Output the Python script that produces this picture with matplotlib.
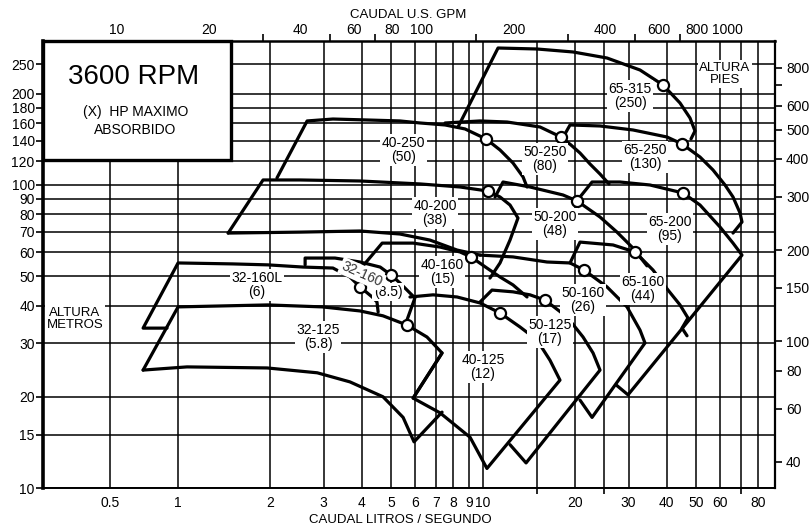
import matplotlib
matplotlib.use("Agg")
import matplotlib.pyplot as plt
from matplotlib.patches import Rectangle
from matplotlib.ticker import FixedLocator, FixedFormatter, NullFormatter

plt.rcParams["font.family"] = ["Liberation Sans", "DejaVu Sans"]

LPS_TO_GPM = 15.8503
M_TO_FT = 1 / 0.3048

# axis ranges (L/s, m)
q_range = (0.3607, 90.66)
h_range = (10.0, 298.7)

# bottom axis: flow in L/s
q_tick_pos = [0.6, 1, 2, 3, 4, 5, 6, 7, 8, 9, 10, 20, 30, 40, 50, 60, 80]
q_tick_lbl = ["0.5", "1", "2", "3", "4", "5", "6", "7", "8", "9", "10",
              "20", "30", "40", "50", "60", "80"]
q_minor = [15, 25, 70]
# left axis: head in metres
h_ticks = [10, 15, 20, 30, 40, 50, 60, 70, 80, 90, 100, 120, 140, 160, 180, 200, 250]
# top axis: flow in US GPM
gpm_ticks = [10, 20, 40, 60, 80, 100, 200, 400, 600, 800, 1000]
gpm_minor = [30, 50, 70, 150, 300, 500, 700]
# right axis: head in feet
ft_ticks = [40, 60, 80, 100, 150, 200, 300, 400, 500, 600, 800]
ft_minor = [700]

# pump range outlines, (flow L/s, head m)
p65_315 = [(8.28, 155.4), (11.20, 283.2), (15.03, 281.1), (19.73, 274.8), (25.50, 262.5),
           (32.72, 239.6), (38.93, 213.8), (44.25, 186.5), (47.72, 166.4), (49.55, 150.8),
           (48.08, 141.9)]
p50_250 = [(7.51, 160.2), (9.78, 162.7), (11.99, 161.4), (15.38, 155.4), (18.02, 144.0),
           (19.43, 135.5), (20.80, 127.5), (22.43, 117.3), (24.19, 108.7), (25.89, 100.8)]
p40_250 = [(2.11, 105.5), (2.65, 162.7), (3.22, 165.1), (4.17, 163.9), (5.34, 162.7),
           (6.22, 160.2), (7.51, 157.8), (8.73, 153.1), (10.23, 141.9), (11.37, 130.5),
           (12.54, 118.2), (13.53, 106.3), (13.94, 98.5)]
p65_250 = [(18.57, 147.4), (19.29, 157.8), (24.19, 156.6), (31.04, 151.9), (40.12, 144.0),
           (44.93, 136.6), (51.46, 123.7), (56.77, 112.1), (62.15, 100.0), (66.03, 91.3),
           (69.60, 80.9), (70.66, 75.5), (66.03, 69.4)]
p40_200 = [(1.46, 69.4), (1.90, 103.9), (2.51, 103.9), (3.95, 103.1), (6.22, 100.8),
           (8.41, 98.5), (10.38, 95.5), (11.37, 91.3), (12.26, 85.9), (13.02, 77.8),
           (12.26, 65.8), (11.37, 55.3), (10.54, 49.3)]
p40_200_low = [(1.46, 69.4), (2.51, 69.9), (3.95, 70.5), (5.34, 68.9), (6.70, 65.8),
               (8.22, 61.0), (9.78, 58.7)]
p50_160 = [(9.78, 58.7), (12.54, 57.9), (16.21, 55.7), (19.29, 55.3), (21.44, 52.4),
           (25.50, 46.1), (29.66, 39.6), (32.72, 33.2), (33.97, 30.1), (22.78, 17.1),
           (20.80, 19.5)]
p50_200 = [(10.95, 91.3), (11.63, 102.3), (14.26, 98.5), (18.29, 92.7), (20.33, 88.6),
           (24.19, 78.4), (27.50, 69.9), (31.04, 61.9), (34.49, 54.1)]
p65_200 = [(20.80, 91.3), (22.78, 102.3), (28.13, 102.3), (35.28, 100.0), (45.27, 94.1),
           (51.46, 85.9), (59.84, 72.7), (66.03, 64.3), (70.66, 58.7), (29.89, 20.3),
           (27.30, 21.9)]
p65_160 = [(19.29, 55.3), (20.80, 64.8), (26.69, 63.4), (31.51, 60.1), (36.09, 52.4),
           (40.43, 45.0), (44.25, 40.2), (47.00, 36.4), (44.93, 33.7), (46.66, 31.8)]
p40_160 = [(4.01, 53.6), (4.67, 64.3), (5.90, 64.3), (7.23, 62.4), (8.41, 60.1),
           (9.13, 57.9), (10.30, 53.2), (11.37, 49.7), (12.54, 46.8), (13.94, 42.7)]
p32_160 = [(2.61, 54.5), (2.61, 57.4), (3.27, 57.4), (3.95, 55.7), (4.60, 53.6),
           (4.99, 50.5), (5.34, 47.5), (5.76, 44.0), (5.98, 42.4), (5.63, 35.8)]
p32_160L = [(0.920, 33.7), (0.768, 33.7), (1.00, 55.3), (1.51, 54.9), (1.97, 54.5),
            (2.57, 53.6), (3.22, 53.2), (3.66, 49.7), (3.95, 46.1), (4.33, 42.7),
            (4.49, 41.1), (4.53, 38.1)]
p32_125 = [(0.768, 24.5), (1.00, 39.6), (1.97, 40.2), (2.97, 39.6), (3.95, 38.4),
           (4.70, 37.0), (5.63, 34.5), (6.55, 31.5), (7.34, 27.9), (5.90, 19.8)]
p32_125_low = [(0.768, 24.5), (1.07, 25.1), (1.96, 24.9), (2.86, 24.0), (3.66, 22.4),
               (4.70, 20.0), (5.47, 17.1), (5.94, 14.2), (7.34, 17.8)]
p40_125 = [(5.76, 42.7), (6.86, 43.4), (8.22, 42.7), (9.78, 40.8), (11.37, 37.8),
           (13.22, 34.0), (15.03, 30.8), (16.58, 26.4), (17.88, 22.7), (10.30, 11.6),
           (9.07, 14.7), (7.23, 17.7), (5.90, 19.8), (7.34, 27.9)]
p50_125 = [(9.78, 41.1), (10.70, 45.0), (12.54, 44.4), (14.26, 43.4), (15.97, 41.7),
           (18.85, 36.7), (21.28, 31.5), (22.95, 27.9), (24.19, 24.5), (13.84, 12.1),
           (12.26, 13.9)]

outlines = [p65_315, p50_250, p40_250, p65_250, p40_200, p40_200_low, p50_160, p50_200,
            p65_200, p65_160, p40_160, p32_160, p32_160L, p32_125, p32_125_low,
            p40_125, p50_125]

# best-efficiency points (circles)
bep_q = [38.93, 10.23, 18.02, 44.93, 10.38, 20.33, 45.27, 9.13, 21.44, 31.51,
         4.99, 3.95, 5.63, 11.37, 15.97]
bep_h = [213.8, 141.9, 144.0, 136.6, 95.5, 88.6, 94.1, 57.9, 52.4, 60.1,
         50.5, 46.1, 34.5, 37.8, 41.7]

# model names with maximum absorbed HP
lbl_text = ["65-315\n(250)", "40-250\n(50)", "50-250\n(80)", "65-250\n(130)",
            "40-200\n(38)", "50-200\n(48)", "65-200\n(95)", "40-160\n(15)",
            "50-160\n(26)", "65-160\n(44)", "32-160L\n(6)", "(8.5)",
            "32-125\n(5.8)", "40-125\n(12)", "50-125\n(17)"]
lbl_q = [30.34, 5.47, 15.97, 33.97, 6.96, 17.22, 41.03, 7.34, 21.28, 33.46,
         1.816, 4.88, 2.877, 10.0, 16.58]
lbl_h = [196.7, 130.5, 121.9, 123.7, 80.9, 74.3, 71.6, 51.6, 41.7, 45.4,
         46.8, 44.4, 31.5, 25.1, 32.7]

fig = plt.figure(figsize=(8.09, 5.31), dpi=100)
ax = fig.add_axes([43 / 809, 1 - 488 / 531, 732 / 809, 447 / 531])
ax.set_xscale("log")
ax.set_yscale("log")
ax.set_xlim(*q_range)
ax.set_ylim(*h_range)

ax.xaxis.set_major_locator(FixedLocator(q_tick_pos))
ax.xaxis.set_major_formatter(FixedFormatter(q_tick_lbl))
ax.xaxis.set_minor_locator(FixedLocator(q_minor))
ax.xaxis.set_minor_formatter(NullFormatter())
ax.yaxis.set_major_locator(FixedLocator(h_ticks))
ax.yaxis.set_major_formatter(FixedFormatter([str(v) for v in h_ticks]))
ax.yaxis.set_minor_locator(FixedLocator([]))
ax.tick_params(axis="x", which="major", length=0, pad=6, labelsize=10)
ax.tick_params(axis="x", which="minor", length=4, width=1.2, direction="out")
ax.tick_params(axis="y", which="major", length=5, width=1.2, pad=1, labelsize=10)
ax.grid(True, which="both", color="black", linewidth=1.1)
ax.set_axisbelow(True)

for side, lw in (("left", 2.6), ("right", 1.6), ("top", 1.8), ("bottom", 1.4)):
    ax.spines[side].set_linewidth(lw)

for pts in outlines:
    qs = [p[0] for p in pts]
    hs = [p[1] for p in pts]
    ax.plot(qs, hs, color="black", linewidth=2.3, solid_joinstyle="round",
            solid_capstyle="round", zorder=3)

ax.plot(bep_q, bep_h, linestyle="none", marker="o", markersize=8,
        markerfacecolor="white", markeredgecolor="black", markeredgewidth=1.6, zorder=4)

box = dict(boxstyle="square,pad=0.12", facecolor="white", edgecolor="none")
for t, q, h in zip(lbl_text, lbl_q, lbl_h):
    ax.text(q, h, t, ha="center", va="center", fontsize=10, linespacing=1.05,
            bbox=box, zorder=5)
ax.text(4.01, 50.8, "32-160", ha="center", va="center", fontsize=10, rotation=-24,
        color="#333333", bbox=box, zorder=5)

ax.text(0.0437, 0.378, "ALTURA\nMETROS", transform=ax.transAxes, ha="center",
        va="center", fontsize=9.5, linespacing=1.05, bbox=box, zorder=5)
ax.text(0.9317, 0.926, "ALTURA\nPIES", transform=ax.transAxes, ha="center",
        va="center", fontsize=9.5, linespacing=1.05, bbox=box, zorder=5)

# speed / legend panel
ax.add_patch(Rectangle((0, 0.734), 0.257, 0.266, transform=ax.transAxes,
                       facecolor="white", edgecolor="black", linewidth=2.4,
                       zorder=6, clip_on=False))
ax.text(0.124, 0.919, "3600 RPM", transform=ax.transAxes, ha="center", va="center",
        fontsize=20, zorder=7)
ax.text(0.126, 0.841, "(X)  HP MAXIMO", transform=ax.transAxes, ha="center",
        va="center", fontsize=10, zorder=7)
ax.text(0.126, 0.801, "ABSORBIDO", transform=ax.transAxes, ha="center",
        va="center", fontsize=10, zorder=7)

# top axis: US GPM
top = ax.twiny()
top.set_xscale("log")
top.set_xlim(q_range[0] * LPS_TO_GPM, q_range[1] * LPS_TO_GPM)
top.xaxis.set_major_locator(FixedLocator(gpm_ticks))
top.xaxis.set_major_formatter(FixedFormatter([str(v) for v in gpm_ticks]))
top.xaxis.set_minor_locator(FixedLocator(gpm_minor))
top.xaxis.set_minor_formatter(NullFormatter())
top.tick_params(axis="x", which="major", length=0, pad=3, labelsize=10)
top.tick_params(axis="x", which="minor", length=5, width=1.2)
top.yaxis.set_visible(False)
for s in top.spines.values():
    s.set_visible(False)

# right axis: feet
right = ax.twinx()
right.set_yscale("log")
right.set_ylim(h_range[0] * M_TO_FT, h_range[1] * M_TO_FT)
right.yaxis.set_major_locator(FixedLocator(ft_ticks))
right.yaxis.set_major_formatter(FixedFormatter([str(v) for v in ft_ticks]))
right.yaxis.set_minor_locator(FixedLocator(ft_minor))
right.yaxis.set_minor_formatter(NullFormatter())
right.tick_params(axis="y", which="major", length=5, width=1.2, pad=3, labelsize=10)
right.tick_params(axis="y", which="minor", length=5, width=1.2)
for s in right.spines.values():
    s.set_visible(False)

fig.text(408 / 809, 1 - 15 / 531, "CAUDAL U.S. GPM", ha="center", va="center", fontsize=9.5)
fig.text(400 / 809, 1 - 520 / 531, "CAUDAL LITROS / SEGUNDO", ha="center", va="center",
         fontsize=9.5)

fig.savefig("out.png", dpi=100)
